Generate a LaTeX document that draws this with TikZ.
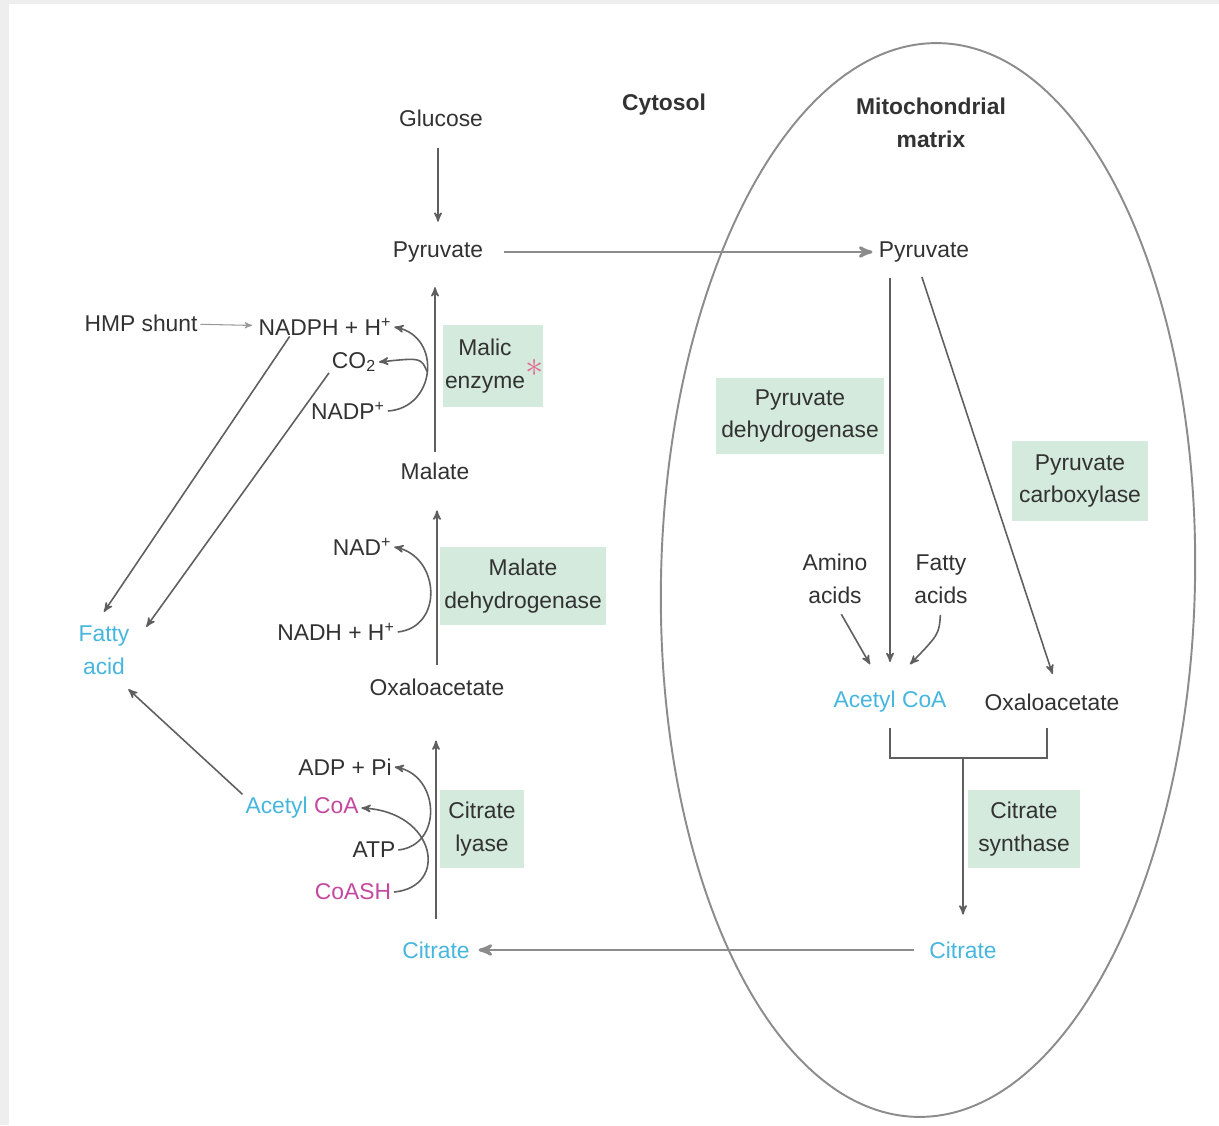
\documentclass[tikz,border=0pt]{standalone}
\usepackage{fontspec}
\setmainfont{Liberation Sans}
\usepackage{tikz}
\usetikzlibrary{arrows,calc}

\definecolor{enzgreen}{RGB}{212,234,220}
\definecolor{cyanlbl}{RGB}{70,182,222}
\definecolor{pinklbl}{RGB}{196,72,160}
\definecolor{starpink}{RGB}{226,110,150}
\definecolor{txtgray}{RGB}{50,50,50}
\definecolor{linegray}{RGB}{95,95,95}
\definecolor{framegray}{RGB}{238,238,238}

\begin{document}
\begin{tikzpicture}[>=stealth', x=0.02cm, y=-0.02cm,
    every node/.style={font=\fontsize{13}{18.5}\selectfont, text=txtgray, inner sep=1.5pt, align=center},
    title/.style={font=\fontsize{13}{18.5}\selectfont\bfseries},
    enzyme/.style={fill=enzgreen, inner sep=0pt},
    flow/.style={->, draw=linegray, line width=0.9pt},
    transport/.style={->, draw=black!45, line width=1.6pt},
    side/.style={draw=linegray, line width=0.9pt}]

    % Draw frame and bounding box
    \useasboundingbox (0,0) rectangle (1219,1125);
    \fill[framegray] (0,0) rectangle (1219,1125);
    \fill[white] (9,4) rectangle (1219,1125);

    % Draw mitochondrion
    \draw[black!45, line width=1.1pt, rotate around={-1.2:(928,580)}] (928,580) ellipse [x radius=267, y radius=537];

    % Compartment titles
    \node[title] (cytosol) at (664,105) {Cytosol};
    \node[title] (matrix) at (931,123) {Mitochondrial\\matrix};

    % Green enzyme boxes
    \node[enzyme, minimum width=2cm, minimum height=1.64cm] (me) at (493,366) {};
    \node (metxt) at (485,366) {Malic\\enzyme};
    \node[text=starpink, font=\fontsize{20}{20}\selectfont] (star) at (535,368) {$\ast$};
    \node[enzyme, minimum width=3.34cm, minimum height=1.56cm] (mdh) at (523,586) {Malate\\dehydrogenase};
    \node[enzyme, minimum width=1.68cm, minimum height=1.56cm] (cl) at (482,829) {Citrate\\lyase};
    \node[enzyme, minimum width=3.36cm, minimum height=1.54cm] (pdh) at (800,416) {Pyruvate\\dehydrogenase};
    \node[enzyme, minimum width=2.72cm, minimum height=1.6cm] (pc) at (1080,481) {Pyruvate\\carboxylase};
    \node[enzyme, minimum width=2.24cm, minimum height=1.56cm] (cs) at (1024,829) {Citrate\\synthase};

    % Cytosol metabolites
    \node (glc) at (441,118) {Glucose};
    \node (pyrC) at (438,252) {Pyruvate};
    \node (mal) at (435,471) {Malate};
    \node (oaaC) at (437,687) {Oxaloacetate};
    \node[text=cyanlbl] (citC) at (436,950) {Citrate};
    \node[text=cyanlbl] (fa) at (104,650) {Fatty\\acid};

    % Cofactors
    \node (hmp) at (141,323) {HMP shunt};
    \node (nadph) at (325,327) {NADPH + H\textsuperscript{+}};
    \node (co2) at (354,362) {CO\textsubscript{2}};
    \node (nadp) at (348,411) {NADP\textsuperscript{+}};
    \node (nad) at (362,547) {NAD\textsuperscript{+}};
    \node (nadh) at (336,632) {NADH + H\textsuperscript{+}};
    \node (adp) at (345,767) {ADP + Pi};
    \node (acoaC) at (302,808) {\color{cyanlbl}Acetyl \color{pinklbl}CoA};
    \node (atp) at (374,850) {ATP};
    \node[text=pinklbl] (coash) at (353,892) {CoASH};

    % Mitochondrial metabolites
    \node (pyrM) at (924,252) {Pyruvate};
    \node (amino) at (835,579) {Amino\\acids};
    \node (fatty) at (941,579) {Fatty\\acids};
    \node[text=cyanlbl] (acoaM) at (890,702) {Acetyl CoA};
    \node (oaaM) at (1052,702) {Oxaloacetate};
    \node[text=cyanlbl] (citM) at (963,950) {Citrate};
    \coordinate (join) at (963,758);

    % Main pathway arrows
    \draw[flow, shorten <=10.8pt, shorten >=9.7pt] (glc.south -| pyrC) -- (pyrC);
    \draw[transport, shorten <=10pt, shorten >=2pt] (pyrC) -- (pyrM);
    \draw[flow, shorten <=4.5pt, shorten >=12.5pt] (mal) -- (mal |- pyrC.south);
    \draw[flow, shorten <=6pt, shorten >=16pt] (oaaC) -- (oaaC |- mal.south);
    \draw[flow, shorten <=11pt, shorten >=24pt] (citC) -- (citC |- oaaC.south);
    \draw[transport, shorten <=7pt, shorten >=3.4pt] (citM) -- (citC);

    % Mitochondrial arrows
    \draw[flow, shorten <=7.4pt, shorten >=15pt] (acoaM |- pyrM.south) -- (acoaM);
    \draw[flow, shorten <=7pt, shorten >=10pt] ($(pyrM.south)+(-6,0)$) -- ($(oaaM.north)+(6,0)$);
    \draw[flow, shorten <=5pt] ($(amino.south)+(2,0)$) -- ($(acoaM.north)+(-20,-24)$);
    \draw[flow, shorten <=5pt] (fatty.south) .. controls +(-2,28) .. ($(acoaM.north)+(20,-24)$);
    \draw[side] (acoaM.south) ++(0,12) |- (join) -| ($(oaaM.south)+(-5,15)$);
    \draw[flow, shorten >=13.7pt] (join) -- (citM);

    % Cofactor loops
    \draw[side, ->] (nadp.east) .. controls +(48,-3) and +(48,10) .. (nadph.east) coordinate[pos=0.5] (mebend);
    \draw[side, ->] (mebend) .. controls +(-6,-14) .. (co2.east);
    \draw[side, ->] (nadh.east) .. controls +(46,-5) and +(46,10) .. (nad.east);
    \draw[side, ->] (atp.east) .. controls +(45,-5) and +(45,8) .. (adp.east);
    \draw[side, ->] (coash.east) .. controls +(55,-5) and +(75,4) .. (acoaC.east);

    % Links to fatty acid
    \draw[flow, draw=black!40, line width=0.6pt, shorten >=2pt] (hmp) -- (nadph);
    \draw[flow] ($(nadph.south west)+(34,-2)$) -- ($(fa.north)+(0,-11)$);
    \draw[flow] ($(co2.south west)+(0,-2)$) -- ($(fa.north east)+(14,4)$);
    \draw[flow] (acoaC.north west) -- ($(fa.south east)+(-4,12)$);
\end{tikzpicture}
\end{document}
